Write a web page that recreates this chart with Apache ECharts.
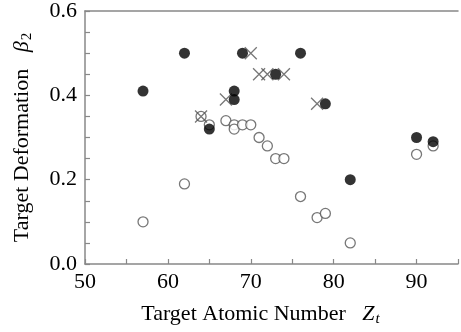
<!DOCTYPE html>
<html><head><meta charset="utf-8">
<script src="https://cdn.jsdelivr.net/npm/echarts@6/dist/echarts.min.js"></script>
<style>html,body{margin:0;padding:0;background:#fff}#c{width:461px;height:332px}</style>
</head><body><div id="c"></div>
<script>
// Data
const filledZ    = [57, 62, 65, 68, 68, 69, 73, 76, 79, 82, 90, 92];
const filledBeta = [0.41, 0.50, 0.32, 0.41, 0.39, 0.50, 0.45, 0.50, 0.38, 0.20, 0.30, 0.29];
const openZ      = [57, 62, 64, 65, 67, 68, 68, 69, 70, 71, 72, 73, 74, 76, 78, 79, 82, 90, 92];
const openBeta   = [0.10, 0.19, 0.35, 0.33, 0.34, 0.33, 0.32, 0.33, 0.33, 0.30, 0.28, 0.25, 0.25, 0.16, 0.11, 0.12, 0.05, 0.26, 0.28];
const crossZ     = [64, 67, 70, 71, 72, 74, 78];
const crossBeta  = [0.35, 0.39, 0.50, 0.45, 0.45, 0.45, 0.38];
const xTickLabels = ['50', '60', '70', '80', '90'];
const yTickLabels = ['0.0', '0.2', '0.4', '0.6'];

const font = "'Liberation Serif','Times New Roman',serif";
const axisColor = '#888';
const pair = (a, b) => a.map((v, i) => [v, b[i]]);

const chart = echarts.init(document.getElementById('c'));
chart.setOption({
  animation: false,
  backgroundColor: '#fff',
  grid: { left: 85, top: 10, width: 378, height: 256.7 },
  xAxis: [{
    type: 'value', min: 50, max: 95, interval: 5,
    axisLine: { show: true, lineStyle: { color: axisColor, width: 1.5 } },
    axisTick: { show: true, inside: true, length: 5, lineStyle: { color: axisColor, width: 1.2 } },
    splitLine: { show: false },
    axisLabel: {
      margin: 7, color: '#000', fontFamily: font, fontSize: 22,
      formatter: v => { const s = String(v); return xTickLabels.includes(s) ? s : ''; }
    },
    name: 'Target Atomic Number   {z|Z}{t|t}',
    nameLocation: 'middle', nameGap: 37,
    nameTextStyle: {
      color: '#000', fontFamily: font, fontSize: 22, padding: [0, 22, 0, 0],
      rich: {
        z: { fontFamily: font, fontSize: 22, fontStyle: 'italic', color: '#000' },
        t: { fontFamily: font, fontSize: 15, fontStyle: 'italic', color: '#000', padding: [11, 0, 0, 1] }
      }
    }
  }, {
    type: 'value', position: 'top', min: 50, max: 95,
    axisLine: { show: true, lineStyle: { color: axisColor, width: 1.5 } },
    axisTick: { show: false }, axisLabel: { show: false }, splitLine: { show: false }
  }],
  yAxis: {
    type: 'value', min: 0, max: 0.6, interval: 0.05,
    axisLine: { show: true, lineStyle: { color: axisColor, width: 1.5 } },
    axisTick: { show: true, inside: true, length: 5, lineStyle: { color: axisColor, width: 1.2 } },
    splitLine: { show: false },
    axisLabel: {
      margin: 8, color: '#000', fontFamily: font, fontSize: 22,
      formatter: v => { const s = v.toFixed(1); return (Math.abs(v * 5 - Math.round(v * 5)) < 1e-6 && yTickLabels.includes(s)) ? s : ''; }
    },
    name: 'Target Deformation   {b|β}{s|2}',
    nameLocation: 'middle', nameGap: 50,
    nameTextStyle: {
      color: '#000', fontFamily: font, fontSize: 22,
      rich: {
        b: { fontFamily: font, fontSize: 22, fontStyle: 'italic', color: '#000' },
        s: { fontFamily: font, fontSize: 15, color: '#000', padding: [11, 0, 0, 1] }
      }
    }
  },
  series: [{
    type: 'scatter', name: 'open', data: pair(openZ, openBeta),
    symbol: 'circle', symbolSize: 10,
    itemStyle: { color: '#fff', borderColor: '#555', borderWidth: 1.3 }
  }, {
    type: 'scatter', name: 'cross', data: pair(crossZ, crossBeta),
    symbol: 'path://M0,0L10,10M10,0L0,10', symbolSize: 12,
    itemStyle: { color: 'none', borderColor: '#555', borderWidth: 1.3 }
  }, {
    type: 'scatter', name: 'filled', data: pair(filledZ, filledBeta),
    symbol: 'circle', symbolSize: 11,
    itemStyle: { color: '#000' }
  }]
});
</script>
</body></html>
